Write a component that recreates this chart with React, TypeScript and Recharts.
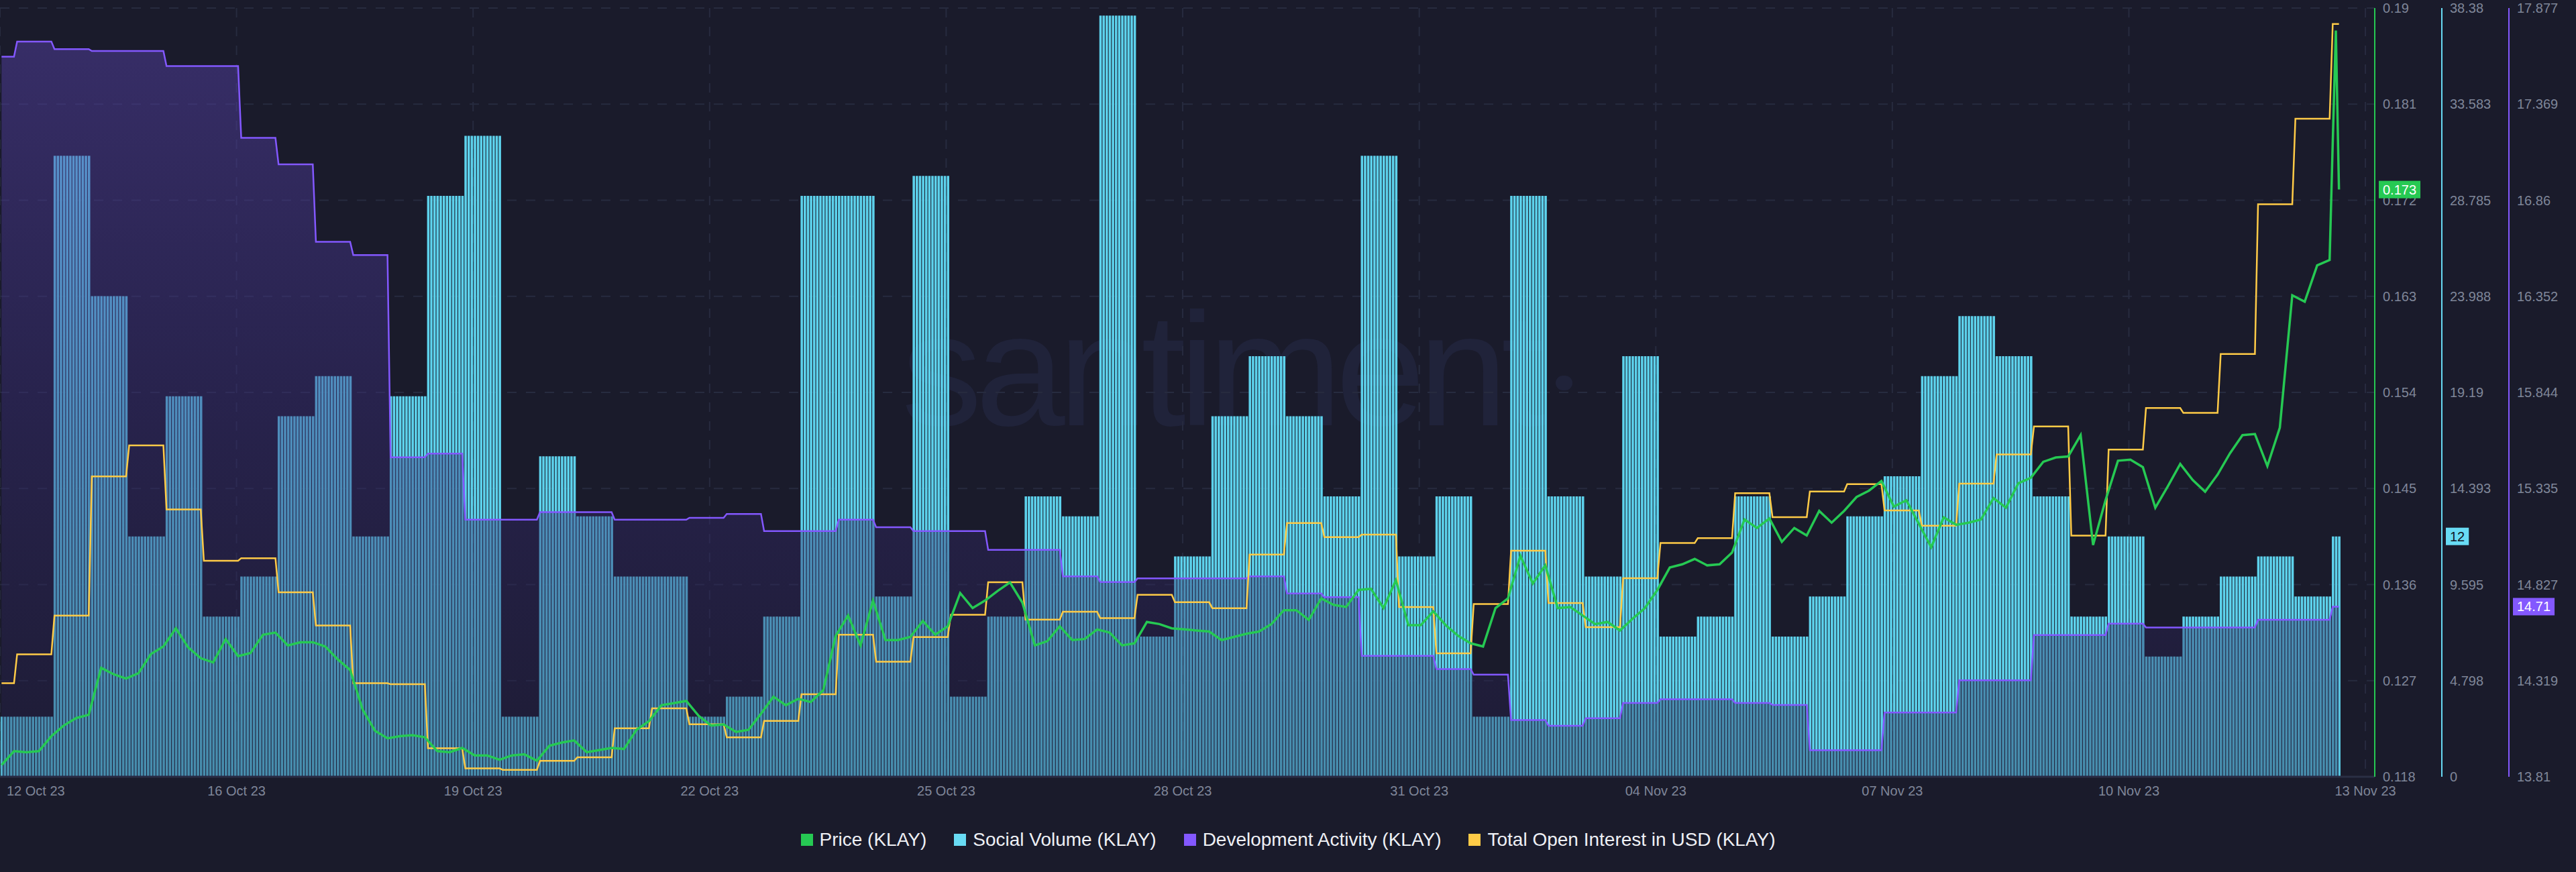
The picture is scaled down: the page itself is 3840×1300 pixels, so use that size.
import React from "react";
import {
  ComposedChart,
  Bar,
  Area,
  Line,
  XAxis,
  YAxis,
  CartesianGrid,
  ReferenceLine,
} from "recharts";

// KLAY, hourly grid: 12 Oct 23 ~20:00 -> 13 Nov 23 ~03:00 (752 hours)
const HOURS = 752;

// 12h periods: first one is 5 hours, last one is 3 hours
const socialVolume = [
  3, 3, 31, 24, 12, 19, 8, 10, 18, 20, 12, 19, 29, 32, 3, 16, 13, 10, 10, 3, 4, 8,
  29, 29, 9, 30, 4, 8, 14, 13, 38, 7, 11, 18, 21, 18, 14, 31, 11, 14, 3, 29, 14, 10,
  21, 7, 8, 14, 7, 9, 13, 15, 20, 23, 21, 14, 8, 12, 6, 8, 10, 11, 9, 12,
];

const devActivity = [
  17.62, 17.7, 17.66, 17.65, 17.65, 17.57, 17.57, 17.19, 17.05, 16.64, 16.57, 15.5,
  15.52, 15.17, 15.17, 15.21, 15.21, 15.17, 15.17, 15.18, 15.2, 15.11, 15.11, 15.17,
  15.13, 15.11, 15.11, 15.01, 15.01, 14.87, 14.84, 14.86, 14.86, 14.86, 14.87, 14.78,
  14.76, 14.45, 14.45, 14.38, 14.35, 14.11, 14.08, 14.12, 14.2, 14.22, 14.22, 14.2,
  14.19, 13.95, 13.95, 14.15, 14.15, 14.32, 14.32, 14.56, 14.56, 14.62, 14.6, 14.6,
  14.6, 14.64, 14.64, 14.71,
];

// total open interest, millions of USD
const openInterest = [
  13.65, 14.78, 16.29, 21.72, 22.93, 20.43, 18.43, 18.53, 17.2, 15.9, 13.65, 13.61,
  11.11, 10.33, 10.27, 10.62, 10.76, 11.89, 12.67, 12.05, 11.54, 12.18, 13.22, 15.54,
  14.49, 15.45, 16.32, 17.59, 16.13, 16.44, 16.19, 17.1, 16.81, 16.58, 18.67, 19.9,
  19.35, 19.45, 16.62, 14.82, 16.74, 18.82, 16.78, 15.84, 17.75, 19.12, 19.31, 21.07,
  20.13, 21.13, 21.42, 20.39, 19.8, 21.44, 22.58, 23.67, 19.41, 22.77, 24.39, 24.2,
  26.5, 32.34, 35.68, 39.38,
];

// price every 4 hours (hour 0 .. 748)
const price4h = [
  0.1191, 0.1204, 0.1203, 0.1204, 0.1218, 0.1228, 0.1235, 0.1238,
  0.1282, 0.1276, 0.1272, 0.1277, 0.1295, 0.1302, 0.1319, 0.1301,
  0.1291, 0.1287, 0.1309, 0.1293, 0.1296, 0.1313, 0.1315, 0.1303,
  0.1306, 0.1306, 0.1302, 0.129, 0.128, 0.1243, 0.1223, 0.1216,
  0.1218, 0.1219, 0.1217, 0.1204, 0.1203, 0.1207, 0.12, 0.12,
  0.1196, 0.12, 0.1201, 0.1195, 0.1209, 0.1212, 0.1214, 0.1203,
  0.1205, 0.1207, 0.1206, 0.1224, 0.1232, 0.1247, 0.1249, 0.1251,
  0.1237, 0.1228, 0.1229, 0.1222, 0.1224, 0.1239, 0.1255, 0.1247,
  0.1253, 0.125, 0.1261, 0.1312, 0.1331, 0.1303, 0.1345, 0.1308,
  0.1308, 0.1311, 0.1326, 0.1313, 0.1321, 0.1352, 0.1338, 0.1345,
  0.1354, 0.1362, 0.1343, 0.1303, 0.1307, 0.1321, 0.1308, 0.1309,
  0.1318, 0.1315, 0.1303, 0.1305, 0.1325, 0.1323, 0.1319, 0.1318,
  0.1317, 0.1316, 0.1308, 0.1311, 0.1314, 0.1316, 0.1323, 0.1336,
  0.1336, 0.1327, 0.1347, 0.1341, 0.1339, 0.1355, 0.1356, 0.1338,
  0.1364, 0.1322, 0.1322, 0.1335, 0.1322, 0.1312, 0.1305, 0.1302,
  0.1338, 0.1347, 0.1387, 0.1361, 0.1378, 0.1338, 0.1339, 0.1331,
  0.1323, 0.1325, 0.1317, 0.1328, 0.1338, 0.1355, 0.1376, 0.1379,
  0.1384, 0.1378, 0.1379, 0.139, 0.1421, 0.1413, 0.1422, 0.14,
  0.1413, 0.1406, 0.1429, 0.1418, 0.1429, 0.1442, 0.1448, 0.1457,
  0.1433, 0.1439, 0.1417, 0.1395, 0.1423, 0.1416, 0.1418, 0.1421,
  0.1441, 0.1432, 0.1455, 0.146, 0.1475, 0.1479, 0.148, 0.15,
  0.1397, 0.1439, 0.1476, 0.1477, 0.147, 0.1432, 0.1452, 0.1473,
  0.1458, 0.1447, 0.1463, 0.1483, 0.15, 0.1501, 0.1471, 0.1507,
  0.1631, 0.1625, 0.1659, 0.1664,
];
// last three hours (749..751), hourly
const priceTail = [0.1774, 0.1879, 0.173];

const xTickHours = [0, 76, 152, 228, 304, 380, 456, 532, 608, 684, 760];
const xTickLabels = [
  "12 Oct 23", "16 Oct 23", "19 Oct 23", "22 Oct 23", "25 Oct 23", "28 Oct 23",
  "31 Oct 23", "04 Nov 23", "07 Nov 23", "10 Nov 23", "13 Nov 23",
];
const priceTicks = [0.118, 0.127, 0.136, 0.145, 0.154, 0.163, 0.172, 0.181, 0.19];
const svTicks = [0, 4.798, 9.595, 14.393, 19.19, 23.988, 28.785, 33.583, 38.38];
const daTicks = [13.81, 14.319, 14.827, 15.335, 15.844, 16.352, 16.86, 17.369, 17.877];

const BG = "#1a1b2b";
const GREEN = "#26c953";
const CYAN = "#68dbf4";
const BAR_FILL = "#5dd2ec";
const PURPLE = "#8358ff";
const YELLOW = "#ffcb47";
const TICK = "#7f8699";
const GRID = "#272b3f";
const AXIS_W = 100;
const W = 3840;
const H = 1200;
const X_DOMAIN: [number, number] = [0, 763];
const PRICE_DOMAIN: [number, number] = [0.118, 0.19];
const SV_DOMAIN: [number, number] = [0, 38.38];
const DA_DOMAIN: [number, number] = [13.81, 17.877];
const OI_DOMAIN: [number, number] = [10, 40];

const periodOf = (h: number) => (h < 5 ? 0 : Math.min(63, 1 + Math.floor((h - 5) / 12)));

const rows = Array.from({ length: HOURS }, (_, h) => {
  const p = periodOf(h);
  let price: number | null = null;
  if (h <= 748 && h % 4 === 0) price = price4h[h / 4];
  else if (h > 748) price = priceTail[h - 749];
  return {
    t: h + 0.5,
    sv: socialVolume[p],
    da: devActivity[p],
    oi: openInterest[p],
    price,
  };
});

const legendItems = [
  { name: "Price (KLAY)", color: GREEN },
  { name: "Social Volume (KLAY)", color: CYAN },
  { name: "Development Activity (KLAY)", color: PURPLE },
  { name: "Total Open Interest in USD (KLAY)", color: YELLOW },
];

const XTick = (props: any) => {
  const { x, y, payload } = props;
  const i = xTickHours.indexOf(payload.value);
  const first = i === 0;
  return (
    <text
      x={first ? x + 10 : x}
      y={y + 9}
      dy="0.35em"
      textAnchor={first ? "start" : "middle"}
      fill={TICK}
      fontSize={20}
    >
      {xTickLabels[i]}
    </text>
  );
};

const textWidth = (s: string) =>
  s.split("").reduce((w, c) => w + (c === "." ? 5.56 : 11.12), 0);

const badge = (text: string, bg: string, fg: string, axisIndex: number) => (props: any) => {
  const vb = props.viewBox;
  const x = vb.x + vb.width + axisIndex * AXIS_W + 6;
  const y = vb.y;
  return (
    <g>
      <rect x={x} y={y - 13} width={textWidth(text) + 12} height={26} fill={bg} />
      <text x={x + 6} y={y} dy="0.35em" fill={fg} fontSize={20}>
        {text}
      </text>
    </g>
  );
};

const axisProps = {
  orientation: "right" as const,
  width: AXIS_W,
  interval: 0,
  allowDataOverflow: true,
  tickLine: false,
  tickSize: 6,
  tickMargin: 6,
  tick: { fill: TICK, fontSize: 20 },
};

export default function App() {
  const lastPrice = priceTail[priceTail.length - 1];
  const lastSv = socialVolume[socialVolume.length - 1];
  const lastDa = devActivity[devActivity.length - 1];

  return (
    <div
      style={{
        position: "absolute",
        left: 0,
        top: 0,
        width: W,
        height: 1300,
        background: BG,
        overflow: "hidden",
        fontFamily: "'Liberation Sans', Arial, sans-serif",
      }}
    >
      {/* watermark */}
      <div
        style={{
          position: "absolute",
          left: 1344,
          top: 431,
          fontSize: 240,
          lineHeight: "240px",
          letterSpacing: -10,
          color: "#20233a",
          whiteSpace: "nowrap",
        }}
      >
        santiment
      </div>
      <div
        style={{
          position: "absolute",
          left: 2319,
          top: 560,
          width: 25,
          height: 22,
          borderRadius: 11,
          background: "#20233a",
        }}
      />

      {/* bottom layer: grid, axes, social volume bars */}
      <div style={{ position: "absolute", left: 0, top: 0 }}>
        <ComposedChart width={W} height={H} data={rows} margin={{ top: 12, right: 0, bottom: 0, left: 0 }}>
          <CartesianGrid yAxisId="a_price" stroke={GRID} strokeDasharray="14 14" strokeWidth={2} />
          <XAxis
            dataKey="t"
            type="number"
            domain={X_DOMAIN}
            ticks={xTickHours}
            interval={0}
            allowDataOverflow
            height={42}
            tickLine={false}
            tickSize={8}
            tickMargin={4}
            axisLine={{ stroke: "#2a2f44", strokeWidth: 3 }}
            tick={<XTick />}
          />
          <YAxis
            yAxisId="a_price"
            {...axisProps}
            domain={PRICE_DOMAIN}
            ticks={priceTicks}
            axisLine={{ stroke: GREEN, strokeWidth: 2 }}
          />
          <YAxis
            yAxisId="b_sv"
            {...axisProps}
            domain={SV_DOMAIN}
            ticks={svTicks}
            axisLine={{ stroke: CYAN, strokeWidth: 2 }}
          />
          <YAxis
            yAxisId="c_da"
            {...axisProps}
            domain={DA_DOMAIN}
            ticks={daTicks}
            axisLine={{ stroke: PURPLE, strokeWidth: 2 }}
          />
          <Bar yAxisId="b_sv" dataKey="sv" fill={BAR_FILL} barSize={3.6} isAnimationActive={false} />
        </ComposedChart>
      </div>

      {/* top layer: dev activity area, open interest, price, last-value badges */}
      <div style={{ position: "absolute", left: 0, top: 0 }}>
        <ComposedChart
          width={W}
          height={H}
          data={rows}
          margin={{ top: 12, right: 3 * AXIS_W, bottom: 42, left: 0 }}
        >
          <defs>
            <linearGradient id="daFill" x1="0" y1="0" x2="0" y2="1">
              <stop offset="0%" stopColor="#5a44b0" stopOpacity={0.45} />
              <stop offset="50%" stopColor="#3a2d7a" stopOpacity={0.42} />
              <stop offset="100%" stopColor="#231d45" stopOpacity={0.38} />
            </linearGradient>
          </defs>
          <XAxis dataKey="t" type="number" domain={X_DOMAIN} allowDataOverflow hide />
          <YAxis yAxisId="a_price" hide domain={PRICE_DOMAIN} allowDataOverflow />
          <YAxis yAxisId="b_sv" hide domain={SV_DOMAIN} allowDataOverflow />
          <YAxis yAxisId="c_da" hide domain={DA_DOMAIN} allowDataOverflow />
          <YAxis yAxisId="d_oi" hide domain={OI_DOMAIN} allowDataOverflow />
          <Area
            yAxisId="c_da"
            type="linear"
            dataKey="da"
            stroke={PURPLE}
            strokeWidth={2.5}
            fill="url(#daFill)"
            fillOpacity={1}
            dot={false}
            activeDot={false}
            isAnimationActive={false}
          />
          <Line
            yAxisId="d_oi"
            type="linear"
            dataKey="oi"
            stroke={YELLOW}
            strokeWidth={2.5}
            dot={false}
            activeDot={false}
            isAnimationActive={false}
          />
          <Line
            yAxisId="a_price"
            type="linear"
            dataKey="price"
            stroke={GREEN}
            strokeWidth={3.5}
            connectNulls
            dot={false}
            activeDot={false}
            isAnimationActive={false}
          />
          <ReferenceLine
            yAxisId="a_price"
            y={lastPrice}
            stroke="none"
            label={badge(lastPrice.toFixed(3), GREEN, "#ffffff", 0)}
          />
          <ReferenceLine
            yAxisId="b_sv"
            y={lastSv}
            stroke="none"
            label={badge(String(lastSv), CYAN, "#111320", 1)}
          />
          <ReferenceLine
            yAxisId="c_da"
            y={lastDa}
            stroke="none"
            label={badge(lastDa.toFixed(2), PURPLE, "#ffffff", 2)}
          />
        </ComposedChart>
      </div>

      {/* legend */}
      <div
        style={{
          position: "absolute",
          left: 0,
          top: 1236,
          width: W,
          height: 32,
          display: "flex",
          justifyContent: "center",
          alignItems: "center",
          gap: 41,
        }}
      >
        {legendItems.map((item) => (
          <div key={item.name} style={{ display: "flex", alignItems: "center", gap: 10 }}>
            <span style={{ width: 18, height: 18, background: item.color, display: "inline-block" }} />
            <span style={{ fontSize: 28, color: "#eef0f5", whiteSpace: "nowrap" }}>{item.name}</span>
          </div>
        ))}
      </div>
    </div>
  );
}
